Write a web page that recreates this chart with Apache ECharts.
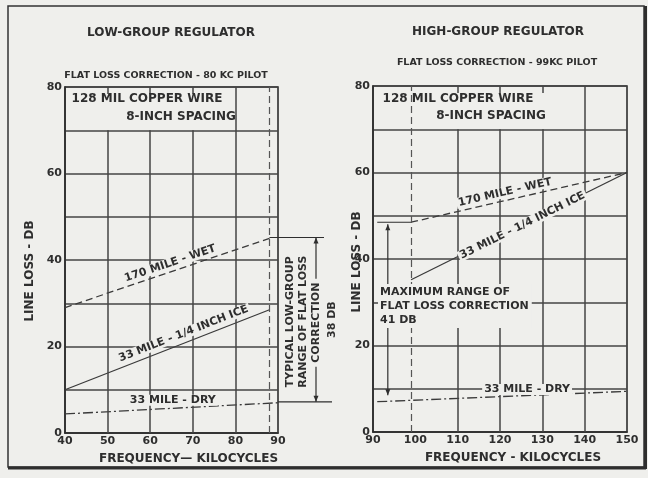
<!DOCTYPE html>
<html><head><meta charset="utf-8">
<script src="https://cdn.jsdelivr.net/npm/echarts@6/dist/echarts.min.js"></script>
<style>html,body{margin:0;padding:0;background:#efefec}#c{width:648px;height:478px}</style>
</head><body><div id="c"></div>
<script>
// ---- data ----
const lowFreqTicks = [40, 50, 60, 70, 80, 90];
const highFreqTicks = [90, 100, 110, 120, 130, 140, 150];
const lossTicks = [0, 20, 40, 60, 80];
const lowGridX = [50, 60, 70, 80];
const lowFullX = [80];
const highGridX = [110, 120, 130, 140];
const highFullX = [140];
const bandFloor = 70;
const lowWet = [[40, 29], [88, 45]];
const lowIce = [[40, 10], [88, 28.5]];
const lowDry = [[40, 4.4], [90, 7.0]];
const highWet = [[99, 48.5], [150, 60]];
const highIce = [[99, 35.2], [150, 60]];
const highDry = [[91, 7.0], [150, 9.4]];
const lowPilot = 88, highPilot = 99;
const lowRange = [7.2, 45.2];   // 38 DB
const highRange = [8.5, 48.5];  // 41 DB
const highArrowX = 93.5;
const highRangeStartX = 91;

// ---- style ----
const INK = '#2e2e2e', GRID = '#444', BG = '#efefec', F = 'DejaVu Sans';
const chart = echarts.init(document.getElementById('c'));

function xAxisCfg(gi, min, max, name, pad) {
  return { type: 'value', gridIndex: gi, min, max, interval: 10,
    axisLine: { show: true, lineStyle: { color: INK, width: 1.6 } }, axisTick: { show: false },
    axisLabel: { color: INK, fontFamily: F, fontWeight: 'bold', fontSize: 11, margin: 3 },
    splitLine: { show: false },
    name, nameLocation: 'middle', nameGap: 20, nameMoveOverlap: false,
    nameTextStyle: { color: INK, fontFamily: F, fontWeight: 'bold', fontSize: 12, padding: [0, 0, 0, pad] } };
}
function yAxisCfg(gi, gap, pad) {
  return { type: 'value', gridIndex: gi, min: 0, max: 80, interval: 10,
    axisLine: { show: true, lineStyle: { color: INK, width: 1.6 } }, axisTick: { show: false },
    axisLabel: { formatter: v => lossTicks.includes(v) ? String(v) : '', color: INK, fontFamily: F, fontWeight: 'bold', fontSize: 11, margin: 3 },
    splitLine: { show: true, lineStyle: { color: GRID, width: 1.5 } },
    name: 'LINE LOSS - DB', nameLocation: 'middle', nameRotate: 90, nameGap: gap, nameMoveOverlap: false,
    nameTextStyle: { color: INK, fontFamily: F, fontWeight: 'bold', fontSize: 12, padding: [0, pad, 0, 0] } };
}
function gridMarks(xs, full, pilot) {
  const d = [];
  xs.forEach(x => {
    d.push([{ coord: [x, 0] }, { coord: [x, full.includes(x) ? 80 : bandFloor] }]);
    if (!full.includes(x)) d.push([{ coord: [x, 80] }, { coord: [x, 78.4] }]);
  });
  d.push([{ coord: [pilot, 0], lineStyle: { type: [7, 4], width: 1.2, color: '#555' } }, { coord: [pilot, 80] }]);
  return { silent: true, symbol: ['none', 'none'], label: { show: false }, animation: false,
    lineStyle: { color: GRID, width: 1.5, type: 'solid' }, data: d };
}
function ser(gi, data, type) {
  return { type: 'line', xAxisIndex: gi, yAxisIndex: gi, data, showSymbol: false, animation: false,
    lineStyle: { color: '#3a3a3a', width: 1.3, type }, z: 3 };
}
const WET = [7, 4], DRY = [10, 3, 2, 3];

chart.setOption({
  backgroundColor: BG,
  animation: false,
  grid: [
    { left: 65, top: 87, width: 213, height: 346, show: true, borderColor: INK, borderWidth: 1.6 },
    { left: 373, top: 86, width: 254, height: 346, show: true, borderColor: INK, borderWidth: 1.6 }
  ],
  xAxis: [xAxisCfg(0, lowFreqTicks[0], lowFreqTicks[lowFreqTicks.length - 1], 'FREQUENCY— KILOCYCLES', 34),
          xAxisCfg(1, highFreqTicks[0], highFreqTicks[highFreqTicks.length - 1], 'FREQUENCY - KILOCYCLES', 26)],
  yAxis: [yAxisCfg(0, 29, 22), yAxisCfg(1, 10, 6)],
  series: [
    { type: 'line', xAxisIndex: 0, yAxisIndex: 0, data: [], markLine: gridMarks(lowGridX, lowFullX, lowPilot) },
    { type: 'line', xAxisIndex: 1, yAxisIndex: 1, data: [], markLine: gridMarks(highGridX, highFullX, highPilot) },
    ser(0, lowWet, WET), ser(0, lowIce, 'solid'), ser(0, lowDry, DRY),
    ser(1, highWet, WET), ser(1, highIce, 'solid'), ser(1, highDry, DRY)
  ]
});

// ---- annotations ----
const px = (gi, p) => chart.convertToPixel({ gridIndex: gi }, p);
const txt = (text, x, y, size, opt) => Object.assign({ type: 'text', x, y, z: 20,
  style: Object.assign({ text, fill: INK, font: 'bold ' + size + 'px "DejaVu Sans"', align: 'center', verticalAlign: 'middle' }, (opt && opt.style) || {}) },
  opt && opt.rotation !== undefined ? { rotation: opt.rotation } : {});
function lineLabel(gi, seg, xc, off, text, flat) {
  const p1 = px(gi, seg[0]), p2 = px(gi, seg[1]);
  const ang = flat ? 0 : Math.atan2(-(p2[1] - p1[1]), p2[0] - p1[0]);
  const yv = seg[0][1] + (xc - seg[0][0]) / (seg[1][0] - seg[0][0]) * (seg[1][1] - seg[0][1]);
  const c = px(gi, [xc, yv]);
  return txt(text, c[0] - off * Math.sin(ang), c[1] - off * Math.cos(ang), 11,
    { rotation: ang, style: { backgroundColor: BG, padding: [0, 2] } });
}
const L = (x1, y1, x2, y2, w) => ({ type: 'line', z: 15, shape: { x1, y1, x2, y2 }, style: { stroke: INK, lineWidth: w || 1.2 } });
const arrowUp = (x, y) => ({ type: 'polygon', z: 15, shape: { points: [[x, y], [x - 2.5, y + 6], [x + 2.5, y + 6]] }, style: { fill: INK } });
const arrowDown = (x, y) => ({ type: 'polygon', z: 15, shape: { points: [[x, y], [x - 2.5, y - 6], [x + 2.5, y - 6]] }, style: { fill: INK } });

const g = [];
// frame
g.push({ type: 'rect', z: 1, shape: { x: 8, y: 6, width: 636, height: 461 }, style: { fill: null, stroke: '#333', lineWidth: 1.5 } });
g.push(L(8, 468, 646, 468, 3), L(645.5, 6, 645.5, 469, 3));
// titles
g.push(txt('LOW-GROUP REGULATOR', 171, 33, 12), txt('HIGH-GROUP REGULATOR', 498, 32, 12));
g.push(txt('FLAT LOSS CORRECTION - 80 KC PILOT', 166, 76, 9.5), txt('FLAT LOSS CORRECTION - 99KC PILOT', 497, 63, 9.5));
g.push(txt('128 MIL COPPER WIRE', 147, 99, 12), txt('8-INCH SPACING', 181, 117, 12));
g.push(txt('128 MIL COPPER WIRE', 458, 99, 12), txt('8-INCH SPACING', 491, 116, 12));
// line labels
g.push(lineLabel(0, lowWet, 65.3, 8, '170 MILE - WET'));
g.push(lineLabel(0, lowIce, 68.6, 9, '33 MILE - 1/4 INCH ICE'));
g.push(lineLabel(0, lowDry, 65.3, 8, '33 MILE - DRY', true));
g.push(lineLabel(1, highWet, 121.6, 8, '170 MILE - WET'));
g.push(lineLabel(1, highIce, 125.2, -1, '33 MILE - 1/4 INCH ICE'));
g.push(lineLabel(1, highDry, 126.4, 6, '33 MILE - DRY', true));
// low-group range bracket
const a = px(0, [90, lowRange[1]]), b = px(0, [90, lowRange[0]]), pp = px(0, [lowPilot, lowRange[1]]);
const ax = a[0] + 38;
g.push(L(pp[0], a[1], a[0] + 46, a[1]), L(a[0], b[1], a[0] + 54, b[1]));
g.push(L(ax, a[1], ax, b[1]), arrowUp(ax, a[1]), arrowDown(ax, b[1]));
const cy = (a[1] + b[1]) / 2;
const R = Math.PI / 2;
g.push(txt('TYPICAL LOW-GROUP', a[0] + 12, cy + 2, 11, { rotation: R }));
g.push(txt('RANGE OF FLAT LOSS', a[0] + 25, cy + 2, 11, { rotation: R }));
g.push(txt('CORRECTION', ax, cy + 3, 11, { rotation: R, style: { backgroundColor: BG, padding: [0, 4] } }));
g.push(txt('38 DB', a[0] + 54, cy, 11, { rotation: R }));
// high-group range bracket
const h1 = px(1, [highRangeStartX, highRange[1]]), h2 = px(1, [highPilot, highRange[1]]);
const ha = px(1, [highArrowX, highRange[1]]), hb = px(1, [highArrowX, highRange[0]]);
g.push(L(h1[0], h1[1], h2[0], h2[1]));
g.push(L(ha[0], ha[1] + 2, ha[0], hb[1]), arrowUp(ha[0], ha[1] + 2), arrowDown(hb[0], hb[1]));
g.push({ type: 'text', x: 378, y: 284, z: 20, style: { text: 'MAXIMUM RANGE OF\nFLAT LOSS CORRECTION\n41 DB', fill: INK,
  font: 'bold 11px "DejaVu Sans"', lineHeight: 14, align: 'left', verticalAlign: 'top', backgroundColor: BG, padding: [1, 3, 1, 2] } });

chart.setOption({ graphic: g });
</script></body></html>
